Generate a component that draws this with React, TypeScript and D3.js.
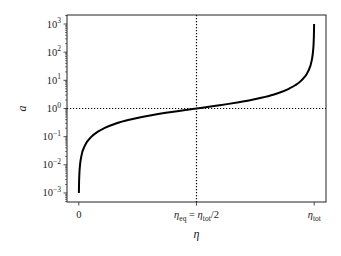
import React from 'react';
import * as d3 from 'd3';

// conformal time (in units of eta_tot) and scale factor
const etaValues = [
  0.0005, 0.0011, 0.0027, 0.0054, 0.0108, 0.027, 0.054, 0.081, 0.108, 0.161,
  0.215, 0.268, 0.32, 0.37, 0.418, 0.461, 0.5, 0.539, 0.582, 0.63, 0.68,
  0.732, 0.785, 0.839, 0.892, 0.919, 0.946, 0.973, 0.9892, 0.9946, 0.9973,
  0.9989, 0.9995,
];
const aValues = [
  0.001, 0.002, 0.005, 0.01, 0.02, 0.05, 0.1, 0.15, 0.2, 0.3,
  0.4, 0.5, 0.6, 0.7, 0.8, 0.9, 1, 1.11, 1.25, 1.43, 1.67,
  2, 2.5, 3.33, 5, 6.67, 10, 20, 50, 100, 200,
  500, 1000,
];

const xTickValues = [0, 0.5, 1];
const yMajorExponents = [-3, -2, -1, 0, 1, 2, 3];
const eqEta = 0.5;
const eqA = 1;

const W = 341;
const H = 256;
const margin = { top: 15, right: 15, bottom: 54, left: 67 };
const font = '"Liberation Serif", "DejaVu Serif", serif';

export default function App() {
  const x = d3.scaleLinear().domain([-0.05, 1.05]).range([margin.left, W - margin.right]);
  const y = d3.scaleLog().domain([10 ** -3.32, 10 ** 3.32]).range([H - margin.bottom, margin.top]);

  const points = etaValues.map((e, i) => ({ eta: e, a: aValues[i] }));
  const line = d3.line<{ eta: number; a: number }>()
    .x(d => x(d.eta))
    .y(d => y(d.a))
    .curve(d3.curveMonotoneX);

  const [y0, y1] = y.domain();
  const minors: number[] = [];
  for (let e = -4; e <= 3; e++) {
    for (let k = 2; k <= 9; k++) {
      const v = k * 10 ** e;
      if (v >= y0 && v <= y1) minors.push(v);
    }
  }

  const left = margin.left;
  const right = W - margin.right;
  const top = margin.top;
  const bottom = H - margin.bottom;

  const xLabel = (i: number) => {
    if (i === 0) return <tspan>0</tspan>;
    if (i === 1)
      return (
        <>
          <tspan fontStyle="italic">η</tspan>
          <tspan fontSize={7.5} dy={2.5}>eq</tspan>
          <tspan dy={-2.5}> = </tspan>
          <tspan fontStyle="italic">η</tspan>
          <tspan fontSize={7.5} dy={2.5}>tot</tspan>
          <tspan dy={-2.5}>/2</tspan>
        </>
      );
    return (
      <>
        <tspan fontStyle="italic">η</tspan>
        <tspan fontSize={7.5} dy={2.5}>tot</tspan>
      </>
    );
  };

  return (
    <svg width={W} height={H} style={{ position: 'absolute', left: 0, top: 0, background: '#fff' }}>
      {/* reference lines */}
      <line x1={x(eqEta)} x2={x(eqEta)} y1={top} y2={bottom} stroke="#000" strokeWidth={1.2} strokeDasharray="1.2,1.8" />
      <line x1={left} x2={right} y1={y(eqA)} y2={y(eqA)} stroke="#000" strokeWidth={1.2} strokeDasharray="1.2,1.8" />

      <path d={line(points) || ''} fill="none" stroke="#000" strokeWidth={2} />

      {/* frame */}
      <rect x={left} y={top} width={right - left} height={bottom - top} fill="none" stroke="#222" strokeWidth={1} />

      {/* y axis */}
      {minors.map(v => (
        <line key={'m' + v} x1={left - 2} x2={left} y1={y(v)} y2={y(v)} stroke="#222" strokeWidth={0.6} />
      ))}
      {yMajorExponents.map(e => (
        <g key={'y' + e}>
          <line x1={left - 3.5} x2={left} y1={y(10 ** e)} y2={y(10 ** e)} stroke="#222" strokeWidth={0.8} />
          <text x={left - 6} y={y(10 ** e) + 3.5} textAnchor="end" fontFamily={font} fontSize={10.5} fill="#222">
            10<tspan fontSize={7.5} dy={-4.5}>{e < 0 ? '−' + Math.abs(e) : String(e)}</tspan>
          </text>
        </g>
      ))}

      {/* x axis */}
      {xTickValues.map((v, i) => (
        <g key={'x' + v}>
          <line x1={x(v)} x2={x(v)} y1={bottom} y2={bottom + 3.5} stroke="#222" strokeWidth={0.8} />
          <text x={x(v)} y={bottom + 16} textAnchor="middle" fontFamily={font} fontSize={10.5} fill="#222">
            {xLabel(i)}
          </text>
        </g>
      ))}

      <text x={x(0.5)} y={bottom + 36} textAnchor="middle" fontFamily={font} fontStyle="italic" fontSize={12} fill="#222">η</text>
      <text x={23} y={y(1)} textAnchor="middle" fontFamily={font} fontStyle="italic" fontSize={12} fill="#222"
        transform={`rotate(-90, 23, ${y(1)})`} dy={3}>a</text>
    </svg>
  );
}
